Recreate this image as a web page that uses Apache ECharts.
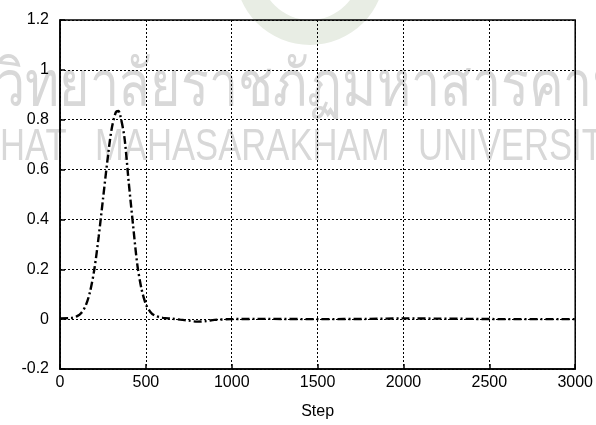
<!DOCTYPE html>
<html>
<head>
<meta charset="utf-8">
<script src="https://cdn.jsdelivr.net/npm/echarts@6/dist/echarts.min.js"></script>
<style>html,body{margin:0;padding:0;background:#fff;}#c{width:596px;height:425px;}</style>
</head>
<body>
<div id="c"></div>
<script>
const steps  = [0, 50, 75, 100, 125, 150, 175, 200, 225, 250, 275, 300, 325, 340, 350, 375, 400, 425, 450, 475, 500, 525, 550, 600, 650, 700, 750, 800, 850, 900, 1000, 1200, 1500, 1800, 2000, 2200, 2400, 2600, 2800, 3000];
const values = [0.003, 0.004, 0.006, 0.012, 0.026, 0.055, 0.11, 0.2, 0.33, 0.48, 0.63, 0.76, 0.83, 0.835, 0.82, 0.73, 0.55, 0.38, 0.22, 0.12, 0.06, 0.03, 0.015, 0.005, 0.002, -0.002, -0.006, -0.01, -0.008, -0.003, 0, 0.001, 0, 0.001, 0.003, 0.002, 0.001, 0, 0, 0];
const xTicks = [0, 500, 1000, 1500, 2000, 2500, 3000];
const yTicks = [-0.2, 0, 0.2, 0.4, 0.6, 0.8, 1, 1.2];
const xName = 'Step';
const wmThai = 'วิทยาลัยราชภัฏมหาสารคาม';
const wmEng = ['HAT', 'MAHASARAKHAM', 'UNIVERSITY'];

const chart = echarts.init(document.getElementById('c'), null, {renderer: 'canvas'});
const pts = steps.map((s, i) => [s, values[i]]);
const font = 'Liberation Sans, Arial, sans-serif';
const engX = [0, 95, 418];
const engFont = '45px "Liberation Sans", Arial, sans-serif';
chart.setOption({
  animation: false,
  backgroundColor: '#fff',
  graphic: [
    {type: 'ring', shape: {cx: 310, cy: -30, r: 75, r0: 50}, style: {fill: '#e8ede4'}, z: -10, silent: true},
    {type: 'text', x: -4, y: 55, scaleX: 0.80, z: -10, silent: true,
      style: {text: wmThai, font: '65px "Noto Sans", "DejaVu Sans", sans-serif', fill: '#d8d8d8', textVerticalAlign: 'top'}}
  ].concat(wmEng.map((w, i) => ({
    type: 'text', x: engX[i], y: 125, scaleX: 0.77, z: -10, silent: true,
    style: {text: w, font: engFont, fill: '#d8d8d8', textVerticalAlign: 'top'}
  }))),
  grid: {left: 60, right: 20, top: 20, bottom: 54, show: true, backgroundColor: 'transparent', borderColor: '#000', borderWidth: 1.5},
  xAxis: {
    type: 'value', min: 0, max: 3000, interval: 500,
    name: xName, nameLocation: 'middle', nameGap: 35,
    nameTextStyle: {color: '#000', fontSize: 16, fontFamily: font},
    axisLine: {show: true, onZero: false, lineStyle: {color: '#000', width: 1.5}},
    axisTick: {show: true, inside: true, length: 5, lineStyle: {color: '#000', width: 1.5}},
    axisLabel: {color: '#000', fontSize: 16, fontFamily: font, margin: 6, formatter: v => String(v)},
    splitLine: {show: true, lineStyle: {color: '#000', width: 1, type: [2, 2]}}
  },
  yAxis: {
    type: 'value', min: -0.2, max: 1.2, interval: 0.2,
    axisLine: {show: true, onZero: false, lineStyle: {color: '#000', width: 1.5}},
    axisTick: {show: true, inside: true, length: 5, lineStyle: {color: '#000', width: 1.5}},
    axisLabel: {color: '#000', fontSize: 16, fontFamily: font, margin: 11,
      formatter: v => { const r = Math.round(v * 10) / 10; return String(r); }},
    splitLine: {show: true, lineStyle: {color: '#000', width: 1, type: [2, 2]}}
  },
  series: [{
    type: 'line', data: pts, smooth: 0.3, showSymbol: false,
    lineStyle: {color: '#000', width: 2.4, type: [8, 3, 2, 3]}, z: 5
  }]
});
</script>
</body>
</html>
